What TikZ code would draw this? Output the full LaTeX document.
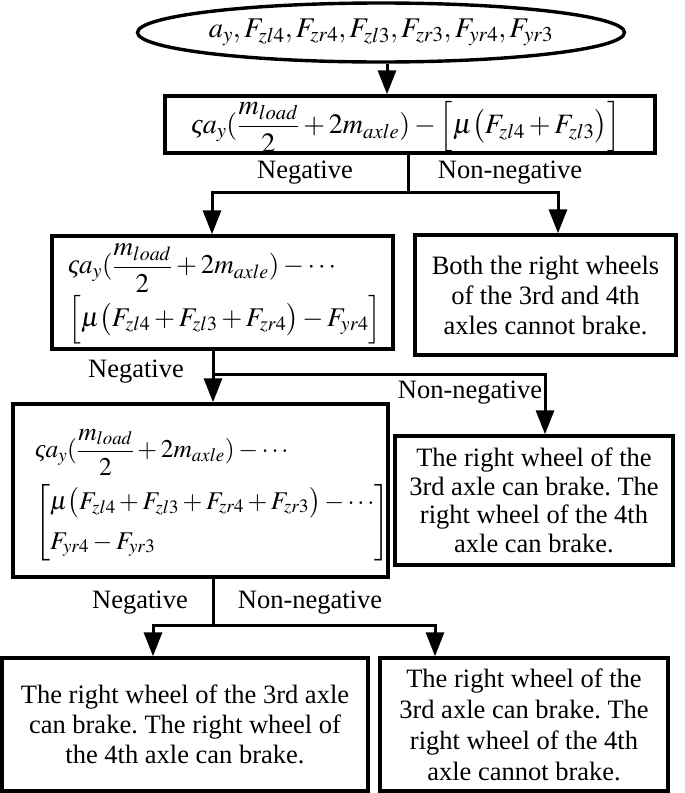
\documentclass[tikz,border=0pt]{standalone}
\usepackage{mathptmx}
\usepackage{amsmath}
\usepackage{fontspec}
\setmainfont{Liberation Serif}
\usetikzlibrary{arrows.meta,shapes.geometric}
\frenchspacing
\newcommand{\vsg}{\mbox{\itshape ς}}
\tikzset{
  box/.style={draw, line width=3.4pt, rectangle, inner sep=0pt, align=center, font=\fontsize{26.5}{30}\selectfont},
  mtext/.style={inner sep=0pt, align=left},
  lbl/.style={inner sep=0pt, font=\fontsize{26.5}{28}\selectfont},
  conn/.style={line width=3pt},
  arr/.style={line width=3pt, -{Triangle[width=18pt,length=24pt]}}
}
\begin{document}
\begin{tikzpicture}[x=1pt,y=-1pt]
\useasboundingbox (0,0) rectangle (685,793);
\node[draw, line width=3.4pt, ellipse, minimum width=445pt, minimum height=59pt, inner sep=0pt, font=\fontsize{28.5}{30}\selectfont] (ell) at (381,32.5)
  {$a_y,F_{zl4},F_{zr4},F_{zl3},F_{zr3},F_{yr4},F_{yr3}$};
\node[box, minimum width=490pt, minimum height=57pt] (b1) at (410,124.5) {};
\node[mtext, font=\fontsize{28}{30}\selectfont] (t1) at (406,127)
  {$\vsg a_y(\dfrac{m_{load}}{2}+2m_{axle})-\Big[\mu\big(F_{zl4}+F_{zl3}\big)\Big]$};
\node[box, minimum width=341pt, minimum height=113pt] (b2) at (222.5,292.5) {};
\node[mtext, anchor=west, font=\fontsize{27}{30}\selectfont] (t2) at (68,294)
  {$\vsg a_y(\dfrac{m_{load}}{2}+2m_{axle})-\cdots$\\[2pt]
   $\Big[\mu\big(F_{zl4}+F_{zl3}+F_{zr4}\big)-F_{yr4}\Big]$};
\node[box, minimum width=261pt, minimum height=120pt] (b3) at (545.5,295)
  {Both the right wheels\\of the 3rd and 4th\\axles cannot brake.};
\node[box, minimum width=375pt, minimum height=173pt] (b5) at (200.5,490.5) {};
\node[mtext, anchor=west, font=\fontsize{25.5}{28}\selectfont] (t5) at (35,495)
  {$\vsg a_y(\dfrac{m_{load}}{2}+2m_{axle})-\cdots$\\[8pt]
   $\left[\begin{array}{@{}l@{}}\mu\big(F_{zl4}+F_{zl3}+F_{zr4}+F_{zr3}\big)-\cdots\\[12pt] F_{yr4}-F_{yr3}\end{array}\right]$};
\node[box, minimum width=278pt, minimum height=129pt, font=\fontsize{26.5}{28.5}\selectfont] (b4) at (534,500.5)
  {The right wheel of the\\3rd axle can brake. The\\right wheel of the 4th\\axle can brake.};
\node[box, minimum width=366pt, minimum height=133pt] (b6) at (185,724.5)
  {The right wheel of the 3rd axle\\can brake. The right wheel of\\the 4th axle can brake.};
\node[box, minimum width=288pt, minimum height=133pt, font=\fontsize{26.5}{31}\selectfont] (b7) at (524,724.5)
  {The right wheel of the\\3rd axle can brake. The\\right wheel of the 4th\\axle cannot brake.};
% labels
\node[lbl] (n1) at (305,173) {Negative};
\node[lbl] (p1) at (510,173) {Non-negative};
\node[lbl] (n2) at (136,372) {Negative};
\node[lbl] (p2) at (470,393) {Non-negative};
\node[lbl] (n3) at (140,603) {Negative};
\node[lbl] (p3) at (310,603) {Non-negative};
% connectors
\draw[arr] ([xshift=6pt]ell.south) -- ([xshift=6pt]ell.south |- b1.north);
\coordinate (j1) at (408,192);
\draw[conn] (b1.south -| j1) -- (j1);
\draw[arr] (j1) -| ([xshift=-10.5pt]b2.north);
\draw[arr] (j1) -| ([xshift=12.5pt]b3.north);
\coordinate (j2) at (213,374);
\draw[conn] ([xshift=-9.5pt]b2.south) -- (j2);
\draw[arr] (j2) -- (j2 |- b5.north);
\draw[arr] (j2) -| ([xshift=11pt]b4.north);
\coordinate (j3) at (213,625);
\draw[conn] ([xshift=12.5pt]b5.south) -- (j3);
\draw[arr] (j3) -| ([xshift=-32pt]b6.north);
\draw[arr] (j3) -| ([xshift=-89pt]b7.north);
\end{tikzpicture}
\end{document}
